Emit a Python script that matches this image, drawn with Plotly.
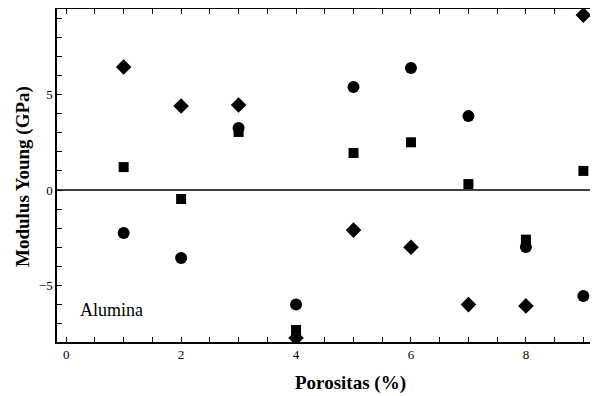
import plotly.graph_objects as go

porositas = [1, 2, 3, 4, 5, 6, 7, 8, 9]
diamond_vals = [6.44, 4.4, 4.45, -7.75, -2.1, -3.0, -6.0, -6.07, 9.16]
circle_vals = [-2.25, -3.56, 3.25, -6.0, 5.4, 6.39, 3.87, -2.98, -5.55]
square_vals = [1.2, -0.47, 3.04, -7.33, 1.94, 2.5, 0.31, -2.6, 1.0]

x_ticks = [0, 2, 4, 6, 8]
y_ticks = [-5, 0, 5]

fig = go.Figure()
fig.add_trace(go.Scatter(x=porositas, y=diamond_vals, mode="markers",
                         marker=dict(symbol="diamond", size=12, color="black")))
fig.add_trace(go.Scatter(x=porositas, y=circle_vals, mode="markers",
                         marker=dict(symbol="circle", size=12, color="black")))
fig.add_trace(go.Scatter(x=porositas, y=square_vals, mode="markers",
                         marker=dict(symbol="square", size=10, color="black")))

fig.add_hline(y=0, line=dict(color="black", width=1.5))

serif = "Liberation Serif"
fig.add_annotation(x=0.2, y=-6.28, xref="x", yref="y", text="Alumina", showarrow=False,
                   xanchor="left", yanchor="middle",
                   font=dict(family=serif, size=18, color="black"))
fig.add_annotation(x=0.5436, y=0, xref="paper", yref="paper", yshift=-41,
                   text="<b>Porositas (%)</b>", showarrow=False,
                   xanchor="center", yanchor="middle",
                   font=dict(family=serif, size=19, color="black"))
fig.add_annotation(x=0, y=0.4955, xref="paper", yref="paper", xshift=-34,
                   text="<b>Modulus Young (GPa)</b>", showarrow=False, textangle=-90,
                   xanchor="center", yanchor="middle",
                   font=dict(family=serif, size=19, color="black"))

axis_common = dict(showline=True, linecolor="black", linewidth=1.5, mirror="ticks",
                   ticks="inside", ticklen=5, tickcolor="black", tickwidth=1,
                   showgrid=False, zeroline=False, automargin=False,
                   tickfont=dict(family=serif, size=13, color="black"))

fig.update_xaxes(range=[-0.16, 9.22], tickvals=x_ticks,
                 minor=dict(dtick=0.5, ticks="inside", ticklen=5, tickcolor="black", showgrid=False),
                 **axis_common)
fig.update_yaxes(range=[-7.96, 9.48], tickvals=y_ticks,
                 minor=dict(dtick=1, ticks="inside", ticklen=5, tickcolor="black", showgrid=False),
                 **axis_common)

fig.update_layout(width=590, height=388, showlegend=False,
                  margin=dict(l=49, r=2, t=1, b=54),
                  plot_bgcolor="white", paper_bgcolor="white")

fig.write_html("out.html")
